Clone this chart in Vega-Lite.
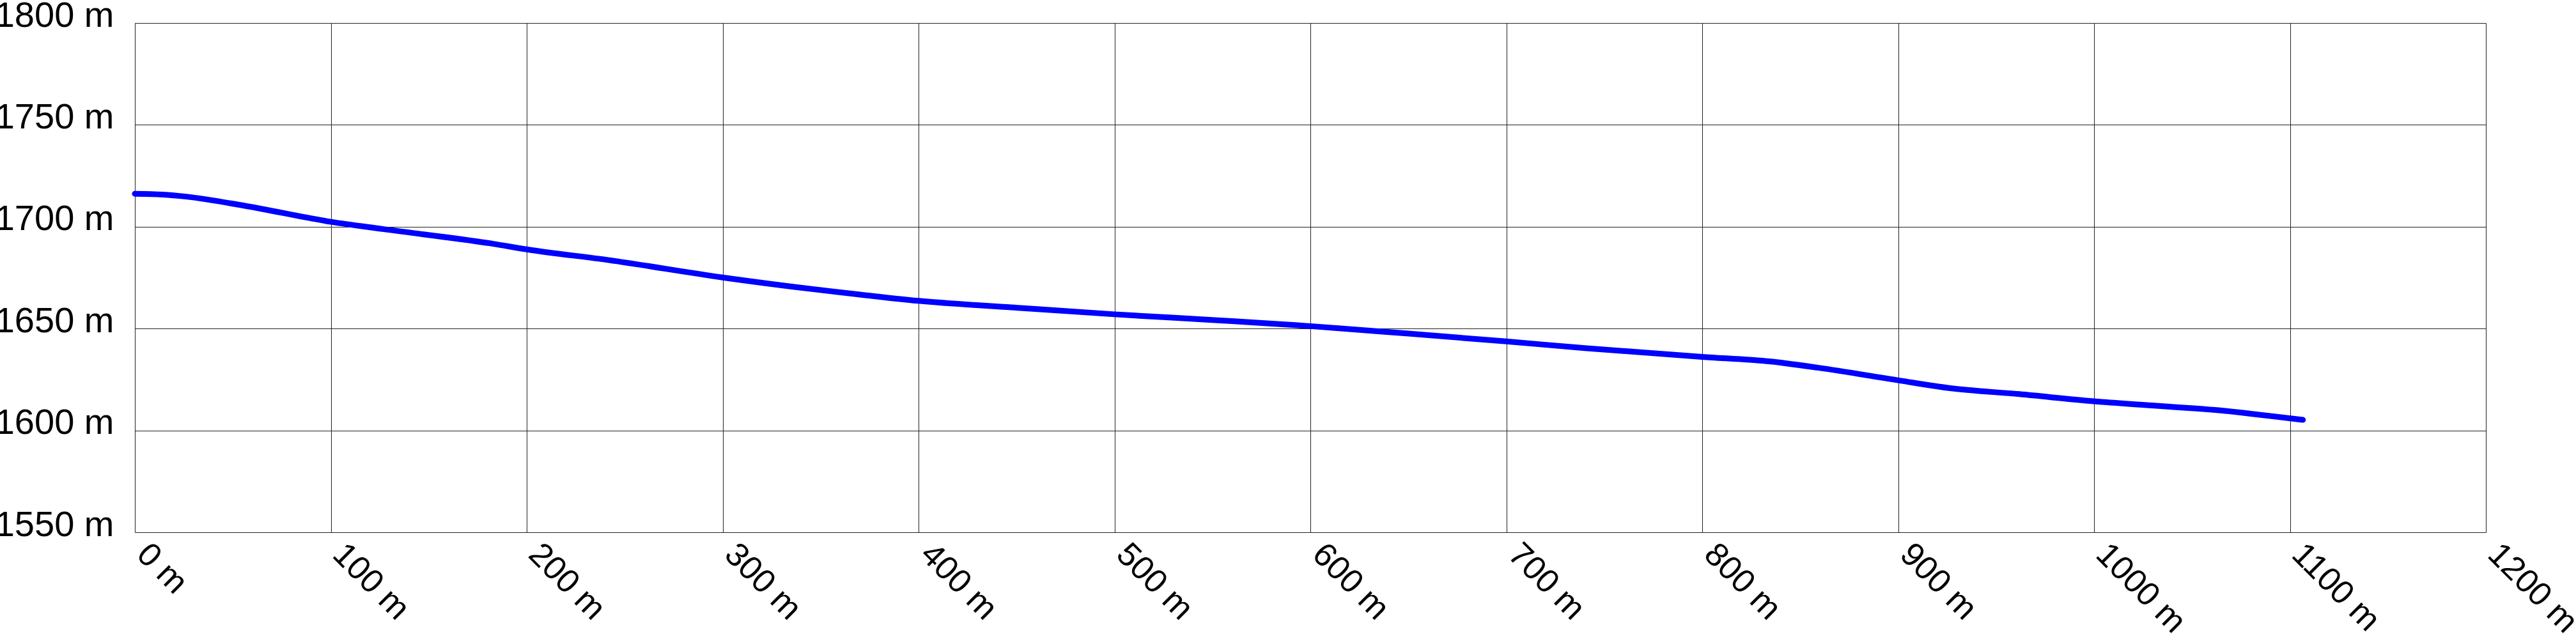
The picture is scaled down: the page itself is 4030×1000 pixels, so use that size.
{
  "$schema": "https://vega.github.io/schema/vega-lite/v6.json",
  "width": 3678,
  "height": 797,
  "autosize": {"type": "none"},
  "padding": {"left": 211, "top": 36, "right": 141, "bottom": 167},
  "background": "white",
  "config": {
    "view": {"stroke": null},
    "font": "Liberation Sans",
    "axis": {
      "domain": false,
      "ticks": false,
      "grid": true,
      "gridColor": "#222222",
      "gridWidth": 1,
      "gridOpacity": 1,
      "labelColor": "#000000",
      "labelFont": "Liberation Sans",
      "labelLimit": 0,
      "title": null
    }
  },
  "data": {
    "values": [
      {"distance": 0, "elevation": 1716.2},
      {"distance": 14, "elevation": 1715.8},
      {"distance": 26, "elevation": 1714.8},
      {"distance": 56, "elevation": 1710.3},
      {"distance": 100, "elevation": 1702.4},
      {"distance": 127, "elevation": 1698.8},
      {"distance": 183, "elevation": 1691.6},
      {"distance": 200, "elevation": 1688.9},
      {"distance": 242, "elevation": 1683.6},
      {"distance": 300, "elevation": 1675.1},
      {"distance": 368, "elevation": 1666.9},
      {"distance": 400, "elevation": 1663.6},
      {"distance": 452, "elevation": 1660.1},
      {"distance": 500, "elevation": 1657.0},
      {"distance": 554, "elevation": 1654.0},
      {"distance": 600, "elevation": 1651.2},
      {"distance": 649, "elevation": 1647.6},
      {"distance": 700, "elevation": 1643.7},
      {"distance": 740, "elevation": 1640.4},
      {"distance": 800, "elevation": 1636.1},
      {"distance": 835, "elevation": 1633.8},
      {"distance": 859, "elevation": 1630.8},
      {"distance": 900, "elevation": 1624.6},
      {"distance": 926, "elevation": 1620.8},
      {"distance": 962, "elevation": 1617.8},
      {"distance": 1000, "elevation": 1614.3},
      {"distance": 1033, "elevation": 1612.0},
      {"distance": 1069, "elevation": 1609.4},
      {"distance": 1080, "elevation": 1608.2},
      {"distance": 1106.6, "elevation": 1605.2}
    ]
  },
  "mark": {
    "type": "line",
    "color": "#0000ff",
    "strokeWidth": 9,
    "strokeCap": "round",
    "strokeJoin": "round",
    "interpolate": "monotone",
    "clip": false
  },
  "encoding": {
    "x": {
      "field": "distance",
      "type": "quantitative",
      "scale": {"domain": [0, 1200], "nice": false, "zero": false},
      "axis": {
        "values": [0, 100, 200, 300, 400, 500, 600, 700, 800, 900, 1000, 1100, 1200],
        "labelExpr": "datum.value + ' m'",
        "labelAngle": 45,
        "labelAlign": "left",
        "labelBaseline": "alphabetic",
        "labelFontSize": 52,
        "labelPadding": 37,
        "labelOverlap": false,
        "labelFlush": false,
        "labelBound": false
      }
    },
    "y": {
      "field": "elevation",
      "type": "quantitative",
      "scale": {"domain": [1550, 1800], "nice": false, "zero": false},
      "axis": {
        "values": [1550, 1600, 1650, 1700, 1750, 1800],
        "labelExpr": "datum.value + ' m'",
        "labelAlign": "right",
        "labelBaseline": "alphabetic",
        "labelOffset": 5,
        "labelFontSize": 56,
        "labelPadding": 33,
        "labelOverlap": false,
        "labelFlush": false,
        "labelBound": false
      }
    }
  }
}
